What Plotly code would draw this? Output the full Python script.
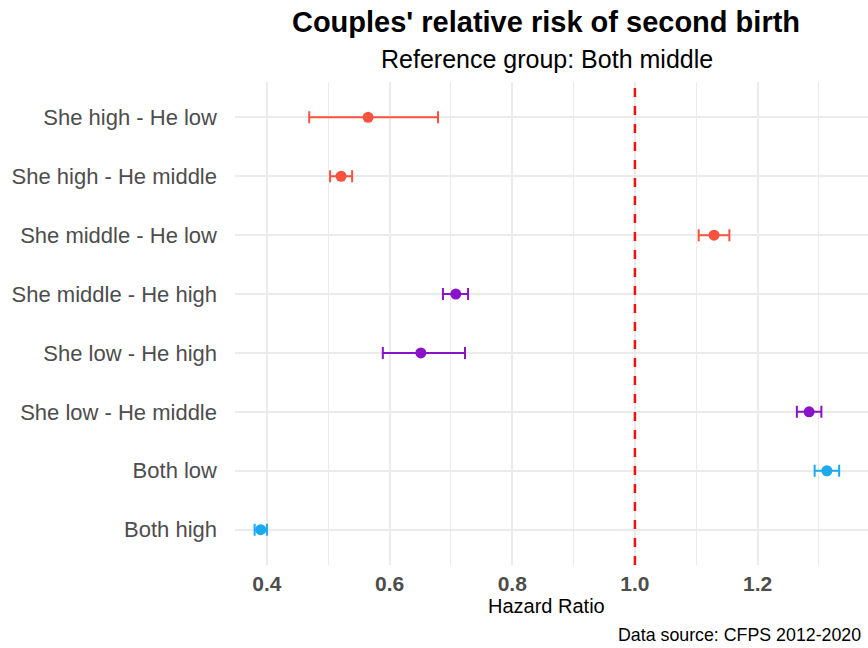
import plotly.graph_objects as go

categories = ["She high - He low", "She high - He middle", "She middle - He low",
              "She middle - He high", "She low - He high", "She low - He middle",
              "Both low", "Both high"]
hr = [0.565, 0.521, 1.129, 0.708, 0.651, 1.284, 1.313, 0.390]
ci_low = [0.469, 0.503, 1.104, 0.687, 0.589, 1.264, 1.293, 0.380]
ci_high = [0.679, 0.539, 1.154, 0.728, 0.723, 1.304, 1.333, 0.400]
groups = ["red", "red", "red", "purple", "purple", "purple", "blue", "blue"]
group_colors = {"red": "#F9533F", "purple": "#8A12C9", "blue": "#1BAAF0"}
x_ticks = [0.4, 0.6, 0.8, 1.0, 1.2]

fig = go.Figure()
for g, col in group_colors.items():
    idx = [i for i, gg in enumerate(groups) if gg == g]
    fig.add_trace(go.Scatter(
        x=[hr[i] for i in idx],
        y=[categories[i] for i in idx],
        mode="markers",
        marker=dict(color=col, size=11),
        error_x=dict(type="data", symmetric=False,
                     array=[ci_high[i] - hr[i] for i in idx],
                     arrayminus=[hr[i] - ci_low[i] for i in idx],
                     color=col, thickness=2, width=6),
        showlegend=False,
    ))

fig.add_vline(x=1.0, line=dict(color="#F21010", width=2.5, dash="dash"))

fig.update_layout(
    width=868, height=648,
    margin=dict(l=235, r=0, t=82, b=83),
    plot_bgcolor="white", paper_bgcolor="white",
    font=dict(family="Liberation Sans, Arial, sans-serif", color="#4D4D4D"),
    title=dict(text="<b>Couples' relative risk of second birth</b>",
               x=(546 / 868), xanchor="center", y=1 - 22 / 648, yanchor="middle",
               font=dict(size=29, color="black")),
    annotations=[
        dict(text="Reference group: Both middle", xref="paper", yref="paper",
             x=(547 - 235) / 633, y=1.0, yshift=23, xanchor="center", yanchor="middle",
             showarrow=False, font=dict(size=25, color="black")),
        dict(text="Hazard Ratio", xref="paper", yref="paper",
             x=(546 - 235) / 633, y=0, yshift=-41, xanchor="center", yanchor="middle",
             showarrow=False, font=dict(size=20, color="black")),
        dict(text="Data source: CFPS 2012-2020", xref="paper", yref="paper",
             x=1.0, xshift=-5, y=0, yshift=-70, xanchor="right", yanchor="middle",
             showarrow=False, font=dict(size=17.8, color="black")),
    ],
)
fig.update_xaxes(
    range=[0.348, 1.380], tickvals=x_ticks, ticktext=["<b>%.1f</b>" % v for v in x_ticks],
    tickfont=dict(size=21, color="#4D4D4D"),
    showgrid=True, gridcolor="#EBEBEB", gridwidth=1.6,
    minor=dict(dtick=0.1, tick0=0.3, showgrid=True, gridcolor="#EBEBEB", gridwidth=0.8),
    zeroline=False, showline=False, ticks="", ticklabelstandoff=4,
)
fig.update_yaxes(
    type="category", categoryorder="array", categoryarray=categories[::-1],
    range=[-0.6, 7.6], tickfont=dict(size=22, color="#4D4D4D"),
    showgrid=True, gridcolor="#EBEBEB", gridwidth=1.6,
    zeroline=False, showline=False, ticks="", ticklabelstandoff=17,
)

fig.write_html("out.html", config={"displayModeBar": False},
               post_script="document.body.style.margin='0';")
